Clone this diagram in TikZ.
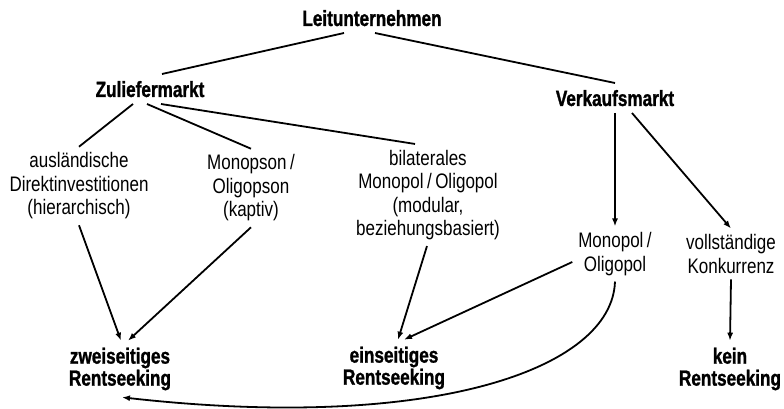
\documentclass[tikz,border=0pt]{standalone}
\usepackage{fontspec}
\setmainfont{Liberation Sans}[FakeStretch=0.81, BoldFeatures={FakeStretch=0.78, FakeBold=1.2}]
\usepackage{tikz}
\usetikzlibrary{positioning, arrows.meta}
\newcommand\cellfont{\fontsize{21}{23.5}\selectfont}
\newcommand\headfont{\fontsize{22}{22}\selectfont\bfseries}
\tikzset{
    headnode/.style={font=\headfont, inner sep=0pt, outer sep=7pt, text height=16pt, text depth=0pt, anchor=base},
    cellnode/.style={font=\cellfont, align=center, inner sep=0pt, outer sep=6pt},
    rentnode/.style={font=\headfont, align=center, inner sep=0pt, outer sep=7pt},
    link/.style={line width=1.8pt},
    flow/.style={link, -{Latex[length=8pt, width=6pt]}}
}
\begin{document}
\begin{tikzpicture}[x=1pt, y=-1pt]
    \useasboundingbox (0,0) rectangle (784,409);
    \node[headnode] (leit) at (372,26) {Leitunternehmen};
    \node[headnode] (zul) at (150,97) {Zuliefermarkt};
    \node[headnode] (verk) at (615,106) {Verkaufsmarkt};
    \node[cellnode] (ausl) at (79,186) {ausländische\\Direktinvestitionen\\(hierarchisch)};
    \node[cellnode] (mops) at (251,188) {Monopson\,/\\Oligopson\\(kaptiv)};
    \node[cellnode] (bilat) at (428,195) {bilaterales\\Monopol\,/\,Oligopol\\(modular,\\beziehungsbasiert)};
    \node[cellnode] (mpol) at (615,254) {Monopol\,/\\Oligopol};
    \node[cellnode] (konk) at (731,254) {vollständige\\Konkurrenz};
    \node[rentnode] (zwei) at (120,369) {zweiseitiges\\Rentseeking};
    \node[rentnode] (ein) at (394,368) {einseitiges\\Rentseeking};
    \node[rentnode] (kein) at (730,369) {kein\\Rentseeking};
    \draw[link] ([xshift=-28pt]leit.south) -- ([xshift=12pt]zul.north);
    \draw[link] ([xshift=3pt]leit.south) -- (verk.north);
    \draw[link] ([xshift=-17pt]zul.south) -- (ausl.north);
    \draw[link] ([xshift=-3pt]zul.south) -- (mops.north);
    \draw[link] ([xshift=11pt]zul.south) -- ([xshift=-13pt]bilat.north);
    \draw[flow] (verk.south) -- (mpol.north);
    \draw[flow] ([xshift=17pt]verk.south) -- (konk.north);
    \draw[flow] (ausl.south) -- ([xshift=1pt]zwei.north);
    \draw[flow] (mops.south) -- ([xshift=8pt]zwei.north);
    \draw[flow] ([xshift=-1pt]bilat.south) -- ([xshift=4pt]ein.north);
    \draw[flow] ([yshift=-8pt]mpol.west) -- ([xshift=10pt]ein.north);
    \draw[flow] (konk.south) -- (kein.north);
    \draw[flow] (mpol.south) .. controls (612,370) and (430,432) .. ([xshift=2pt]zwei.south);
\end{tikzpicture}
\end{document}
